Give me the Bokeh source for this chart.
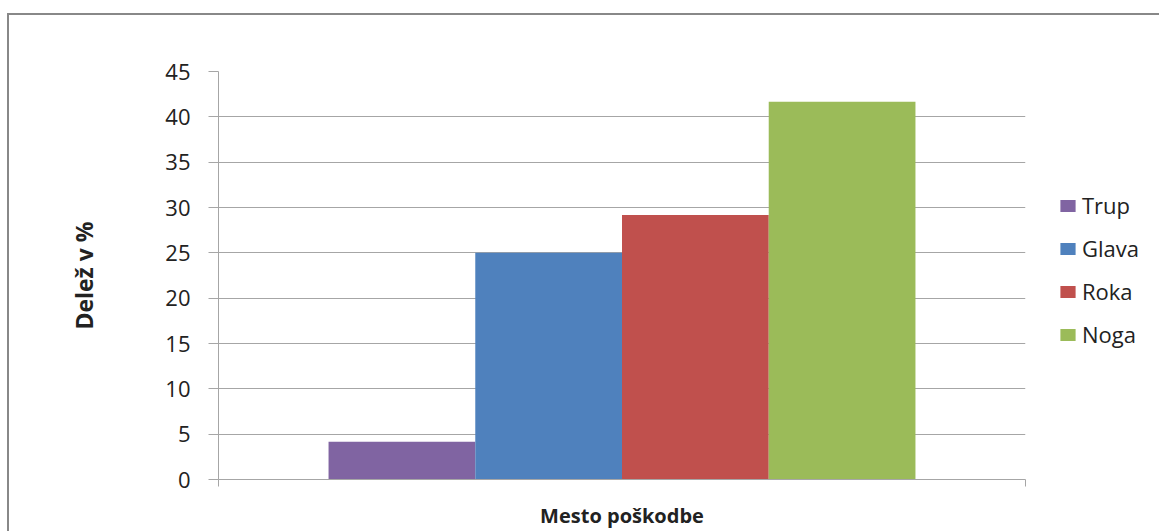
from bokeh.plotting import figure
from bokeh.layouts import row
from bokeh.models import ColumnDataSource, Range1d, FixedTicker, Legend, LegendItem
from bokeh.embed import file_html
from bokeh.resources import INLINE

# Share of injuries by body part (%)
series = ["Trup", "Glava", "Roka", "Noga"]
values = [4.17, 25.0, 29.17, 41.67]
colors = ["#8064A2", "#4F81BD", "#C0504D", "#9BBB59"]
y_ticks = [0, 5, 10, 15, 20, 25, 30, 35, 40, 45]
x_title = "Mesto poškodbe"
y_title = "Delež v %"

FONT = "Open Sans"
TEXT = "#222222"
GRID = "#A6A6A6"
H = 516

# one category spanning [0, 1]; bars clustered in its middle with a 150% gap
gap_width = 1.5
n = len(series)
bar_w = 1.0 / (n + gap_width)
centers = [0.5 + (i - (n - 1) / 2) * bar_w for i in range(n)]

src = ColumnDataSource(dict(x=centers, top=values, color=colors, name=series))

p = figure(width=1021, height=H, output_backend="svg", toolbar_location=None,
           x_range=Range1d(0, 1), y_range=Range1d(0, 45),
           min_border_left=209, min_border_right=5,
           min_border_top=56, min_border_bottom=48)
p.outline_line_color = None
p.background_fill_color = "white"
p.border_fill_color = "white"

p.vbar(x="x", top="top", width=bar_w, fill_color="color", line_color=None, source=src)

# axes
p.xgrid.visible = False
p.ygrid.grid_line_color = GRID
p.ygrid.grid_line_width = 1

ya = p.yaxis[0]
ya.ticker = FixedTicker(ticks=y_ticks)
ya.axis_line_color = GRID
ya.major_tick_line_color = GRID
ya.major_tick_out = 10
ya.major_tick_in = 0
ya.minor_tick_line_color = None
ya.major_label_standoff = 18
ya.major_label_text_font = FONT
ya.major_label_text_font_size = "22px"
ya.major_label_text_color = TEXT
ya.axis_label = y_title
ya.axis_label_text_font = FONT
ya.axis_label_text_font_size = "23px"
ya.axis_label_text_font_style = "bold"
ya.axis_label_text_color = TEXT
ya.axis_label_standoff = 62

xa = p.xaxis[0]
xa.ticker = FixedTicker(ticks=[0, 1])
xa.axis_line_color = GRID
xa.major_tick_line_color = GRID
xa.major_tick_out = 7
xa.major_tick_in = 0
xa.minor_tick_line_color = None
xa.major_label_overrides = {0: "", 1: ""}
xa.major_label_text_font_size = "1px"
xa.axis_label = x_title
xa.axis_label_text_font = FONT
xa.axis_label_text_font_size = "20px"
xa.axis_label_text_font_style = "bold"
xa.axis_label_text_color = TEXT
xa.axis_label_standoff = 15

# legend column to the right of the plot area (its renderer only feeds the legend)
lp = figure(width=1159 - 9 - 1021, height=H, output_backend="svg", toolbar_location=None,
            x_range=Range1d(0, 1), y_range=Range1d(0, 45), min_border=0)
lp.axis.visible = False
lp.grid.visible = False
lp.outline_line_color = None
lp.background_fill_color = "white"
lp.border_fill_color = "white"
lr = lp.vbar(x="x", top="top", width=bar_w, fill_color="color", line_color=None,
             source=src)
lr.visible = False

items = [LegendItem(label=s, renderers=[lr], index=i) for i, s in enumerate(series)]
legend = Legend(items=items, location=(28, 130), orientation="vertical",
                glyph_width=19, glyph_height=15, label_standoff=5,
                label_text_font=FONT, label_text_font_size="22px",
                label_text_color=TEXT, spacing=13, padding=0, margin=0,
                border_line_color=None, background_fill_alpha=0,
                click_policy="none", inactive_fill_alpha=0)
lp.add_layout(legend, "center")

# chart-area border (only its top and left edges fall inside the page)
layout = row(p, lp, spacing=0)
layout.styles = {"margin-left": "7px", "margin-top": "13px",
                 "border-left": "2px solid #888888", "border-top": "2px solid #888888"}

open("out.html", "w").write(file_html(layout, INLINE))
